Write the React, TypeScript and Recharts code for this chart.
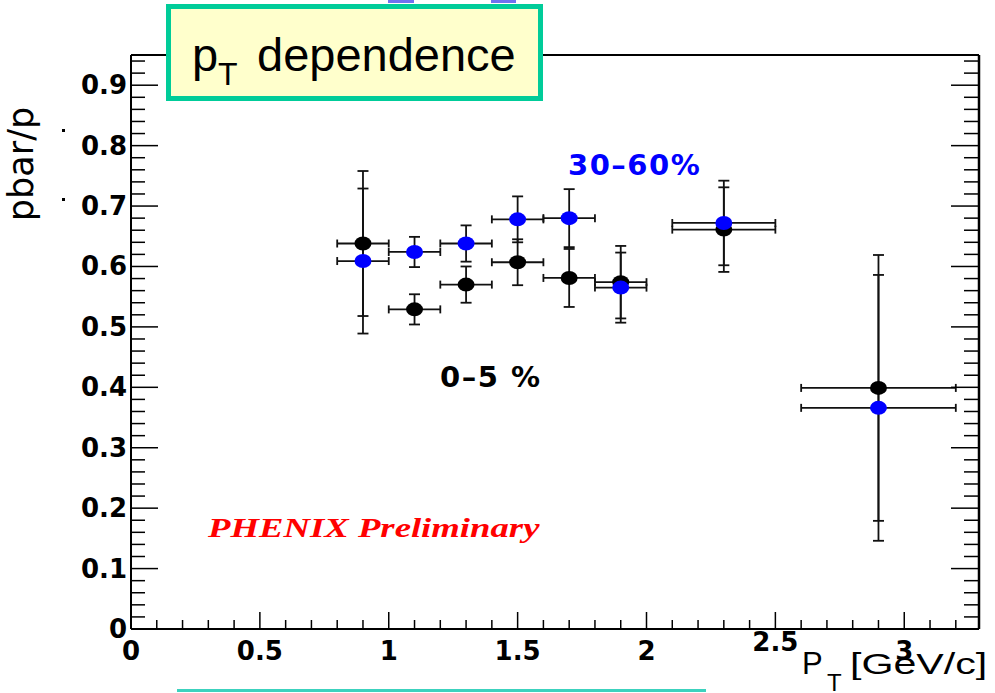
import { ScatterChart, Scatter, XAxis, YAxis, ErrorBar } from 'recharts'

// pT bins (GeV/c) and their half widths
const ptCenters = [0.9, 1.1, 1.3, 1.5, 1.7, 1.9, 2.3, 2.9]
const ptHalfWidths = [0.1, 0.1, 0.1, 0.1, 0.1, 0.1, 0.2, 0.3]

// pbar/p, 0-5% central
const ratioCentral = [0.638, 0.529, 0.57, 0.607, 0.581, 0.574, 0.661, 0.399]
const errCentral = [0.12, 0.025, 0.03, 0.038, 0.048, 0.06, 0.07, 0.22]

// pbar/p, 30-60% peripheral
const ratioPeripheral = [0.609, 0.624, 0.638, 0.678, 0.68, 0.565, 0.672, 0.366]
const errPeripheral = [0.12, 0.025, 0.03, 0.038, 0.048, 0.058, 0.07, 0.22]

const xTicks = [
  0, 0.1, 0.2, 0.3, 0.4, 0.5, 0.6, 0.7, 0.8, 0.9, 1, 1.1, 1.2, 1.3, 1.4, 1.5, 1.6,
  1.7, 1.8, 1.9, 2, 2.1, 2.2, 2.3, 2.4, 2.5, 2.6, 2.7, 2.8, 2.9, 3, 3.1, 3.2,
]
const xMajor = [0, 0.5, 1, 1.5, 2, 2.5, 3]
const xMajorLabels = ['0', '0.5', '1', '1.5', '2', '2.5', '3']

const yTicks = [
  0, 0.02, 0.04, 0.06, 0.08, 0.1, 0.12, 0.14, 0.16, 0.18, 0.2, 0.22, 0.24, 0.26, 0.28,
  0.3, 0.32, 0.34, 0.36, 0.38, 0.4, 0.42, 0.44, 0.46, 0.48, 0.5, 0.52, 0.54, 0.56, 0.58,
  0.6, 0.62, 0.64, 0.66, 0.68, 0.7, 0.72, 0.74, 0.76, 0.78, 0.8, 0.82, 0.84, 0.86, 0.88,
  0.9, 0.92, 0.94,
]
const yMajor = [0, 0.1, 0.2, 0.3, 0.4, 0.5, 0.6, 0.7, 0.8, 0.9]
const yMajorLabels = ['0', '0.1', '0.2', '0.3', '0.4', '0.5', '0.6', '0.7', '0.8', '0.9']

const central = ptCenters.map((x, i) => ({ x, y: ratioCentral[i], ex: ptHalfWidths[i], ey: errCentral[i] }))
const peripheral = ptCenters.map((x, i) => ({ x, y: ratioPeripheral[i], ex: ptHalfWidths[i], ey: errPeripheral[i] }))

const X_DOMAIN: [number, number] = [0, 3.29]
const Y_DOMAIN: [number, number] = [0, 0.95]

const majorIndex = (list: number[], v: number) => list.findIndex((m) => Math.abs(m - v) < 1e-6)

const tickFont = { fontFamily: 'DejaVu Sans', fontWeight: 'bold' as const, fontSize: 26 }

function BottomTick(props: any) {
  const { x, y, payload } = props
  const i = majorIndex(xMajor, payload.value)
  const major = i >= 0
  const lift = xMajorLabels[i] === '2.5' ? 9 : 0
  return (
    <g>
      <line x1={x} y1={y} x2={x} y2={y - (major ? 17 : 9)} stroke="#000" strokeWidth={1.5} />
      {major && (
        <text x={x} y={y + 31 - lift} textAnchor="middle" fill="#000" {...tickFont}>
          {xMajorLabels[i]}
        </text>
      )}
    </g>
  )
}

function TopTick(props: any) {
  const { x, y, payload } = props
  const major = majorIndex(xMajor, payload.value) >= 0
  return <line x1={x} y1={y} x2={x} y2={y + (major ? 17 : 9)} stroke="#000" strokeWidth={1.5} />
}

function LeftTick(props: any) {
  const { x, y, payload } = props
  const i = majorIndex(yMajor, payload.value)
  const major = i >= 0
  return (
    <g>
      <line x1={x} y1={y} x2={x + (major ? 27 : 14)} y2={y} stroke="#000" strokeWidth={1.5} />
      {major && (
        <text x={x - 4} y={y + 9} textAnchor="end" fill="#000" {...tickFont}>
          {yMajorLabels[i]}
        </text>
      )}
    </g>
  )
}

function RightTick(props: any) {
  const { x, y, payload } = props
  const major = majorIndex(yMajor, payload.value) >= 0
  return <line x1={x} y1={y} x2={x - (major ? 28 : 15)} y2={y} stroke="#000" strokeWidth={1.5} />
}

const dot = (color: string) => (props: any) => (
  <ellipse cx={props.cx} cy={props.cy} rx={8.5} ry={7} fill={color} />
)

const frame = { stroke: '#000', strokeWidth: 2 }

export default function App() {
  return (
    <div style={{ position: 'absolute', left: 0, top: 0, width: 995, height: 693, background: '#fff' }}>
      <ScatterChart width={995} height={693} margin={{ top: 0, right: 0, bottom: 0, left: 0 }}>
        <XAxis
          xAxisId="b"
          type="number"
          dataKey="x"
          domain={X_DOMAIN}
          ticks={xTicks}
          interval={0}
          height={64}
          tickSize={0}
          tickMargin={0}
          tickLine={false}
          axisLine={frame}
          tick={<BottomTick />}
          allowDataOverflow
        />
        <XAxis
          xAxisId="t"
          orientation="top"
          type="number"
          domain={X_DOMAIN}
          ticks={xTicks}
          interval={0}
          height={55}
          tickSize={0}
          tickMargin={0}
          tickLine={false}
          axisLine={frame}
          tick={<TopTick />}
          allowDataOverflow
        />
        <YAxis
          yAxisId="l"
          type="number"
          dataKey="y"
          domain={Y_DOMAIN}
          ticks={yTicks}
          interval={0}
          width={131}
          tickSize={0}
          tickMargin={0}
          tickLine={false}
          axisLine={frame}
          tick={<LeftTick />}
          allowDataOverflow
        />
        <YAxis
          yAxisId="r"
          orientation="right"
          type="number"
          domain={Y_DOMAIN}
          ticks={yTicks}
          interval={0}
          width={16}
          tickSize={0}
          tickMargin={0}
          tickLine={false}
          axisLine={{ stroke: '#000', strokeWidth: 2.5 }}
          tick={<RightTick />}
          allowDataOverflow
        />
        <Scatter
          name="0-5%"
          data={central}
          xAxisId="b"
          yAxisId="l"
          shape={dot('#000000')}
          isAnimationActive={false}
        >
          <ErrorBar dataKey="ey" direction="y" width={5.5} stroke="#111" strokeWidth={1.8} isAnimationActive={false} />
          <ErrorBar dataKey="ex" direction="x" width={4} stroke="#111" strokeWidth={1.8} isAnimationActive={false} />
        </Scatter>
        <Scatter
          name="30-60%"
          data={peripheral}
          xAxisId="b"
          yAxisId="l"
          shape={dot('#0000ff')}
          isAnimationActive={false}
        >
          <ErrorBar dataKey="ey" direction="y" width={5.5} stroke="#111" strokeWidth={1.8} isAnimationActive={false} />
          <ErrorBar dataKey="ex" direction="x" width={4} stroke="#111" strokeWidth={1.8} isAnimationActive={false} />
        </Scatter>
      </ScatterChart>

      <svg
        width={995}
        height={693}
        style={{ position: 'absolute', left: 0, top: 0, pointerEvents: 'none' }}
      >
        {/* slide leftovers */}
        <rect x={388} y={0} width={26} height={3} fill="#7070f0" />
        <rect x={491} y={0} width={25} height={3} fill="#7070f0" />
        <rect x={177} y={689} width={529} height={3} fill="#3cd2be" />
        <rect x={62} y={129} width={3} height={3} fill="#000" />
        <rect x={62} y={198} width={3} height={3} fill="#000" />

        {/* title box */}
        <rect x={168.5} y={6.5} width={372} height={92} fill="#ffffcc" stroke="#00cc99" strokeWidth={5} />
        <text x={192} y={71} fontFamily="Liberation Sans" fontSize={47} fill="#000">p</text>
        <text x={218} y={85} fontFamily="Liberation Sans" fontSize={32} fill="#000">T</text>
        <text x={257} y={71} fontFamily="Liberation Sans" fontSize={47} fill="#000">dependence</text>

        {/* axis titles */}
        <text
          transform="translate(33,164) rotate(-90)"
          textAnchor="middle"
          fontFamily="DejaVu Sans"
          fontSize={35}
          fill="#000"
        >
          pbar/p
        </text>
        <text x={802} y={674} fontFamily="Liberation Sans" fontSize={31} fill="#000">P</text>
        <text x={827} y={691} fontFamily="Liberation Sans" fontSize={24} fill="#000">T</text>
        <text transform="translate(850,674) scale(1.42,1)" fontFamily="Liberation Sans" fontSize={29} fill="#000">
          [GeV/c]
        </text>

        {/* annotations */}
        <text x={568} y={175} fontFamily="DejaVu Sans" fontWeight="bold" fontSize={29} letterSpacing={1.5} fill="#0000ff">
          30–60%
        </text>
        <text x={440} y={387} fontFamily="DejaVu Sans" fontWeight="bold" fontSize={29} letterSpacing={1.5} fill="#000">
          0–5 %
        </text>
        <text
          transform="translate(208,537) scale(1.36,1)"
          fontFamily="Liberation Serif"
          fontWeight="bold"
          fontStyle="italic"
          fontSize={27}
          fill="#ff0000"
        >
          PHENIX Preliminary
        </text>
      </svg>
    </div>
  )
}
